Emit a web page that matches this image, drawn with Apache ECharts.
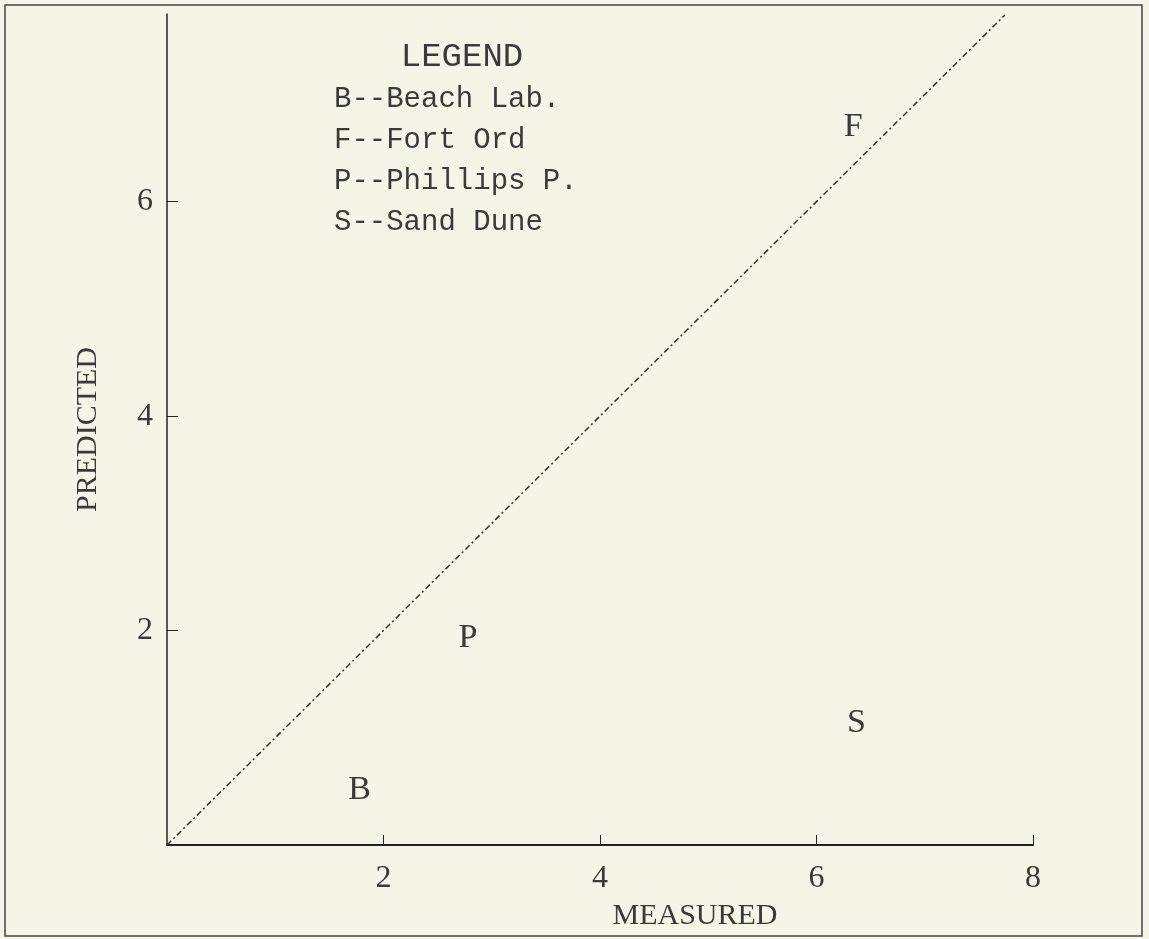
<!DOCTYPE html>
<html>
<head>
<meta charset="utf-8">
<style>
html, body { margin: 0; padding: 0; background: #f5f5e7; }
#container { width: 1149px; height: 939px; }
</style>
<script src="https://cdn.jsdelivr.net/npm/echarts@6/dist/echarts.min.js"></script>
</head>
<body>
<div id="container"></div>
<script>
var siteLetters = ['B', 'P', 'S', 'F'];
var measured = [1.78, 2.78, 6.37, 6.34];
var predicted = [0.51, 1.93, 1.14, 6.70];
var lineEnds = [0, 7.74];
var xTicks = [2, 4, 6, 8];
var yTicks = [2, 4, 6];
var legendTitle = 'LEGEND';
var legendLines = ['B--Beach Lab.', 'F--Fort Ord', 'P--Phillips P.', 'S--Sand Dune'];

var dom = document.getElementById('container');
var myChart = echarts.init(dom, null, { renderer: 'canvas' });

var mono = 'Liberation Mono';
var serif = 'Liberation Serif';
var ink = '#3a3a3a';

var points = siteLetters.map(function (s, i) {
  return { value: [measured[i], predicted[i]], name: s };
});

// outer frame + legend block
var graphics = [{
  type: 'rect',
  shape: { x: 5, y: 5, width: 1137, height: 931 },
  style: { fill: 'none', stroke: '#444', lineWidth: 1.5 }
}, {
  type: 'text',
  x: 462, y: 57,
  style: { text: legendTitle, font: '34px ' + mono, fill: ink, align: 'center', verticalAlign: 'middle' }
}];
legendLines.forEach(function (t, i) {
  graphics.push({
    type: 'text',
    x: 334, y: 99 + i * 41,
    style: { text: t, font: '29px ' + mono, fill: ink, align: 'left', verticalAlign: 'middle' }
  });
});

var option = {
  backgroundColor: '#f5f5e7',
  animation: false,
  grid: { left: 167, right: 116, top: 14, bottom: 94 },
  graphic: graphics,
  xAxis: {
    type: 'value', min: 0, max: 8,
    name: 'MEASURED', nameLocation: 'middle', nameGap: 56,
    nameTextStyle: { fontFamily: serif, fontSize: 30, color: ink, padding: [0, 0, 0, 190] },
    axisLine: { lineStyle: { color: '#222', width: 2 } },
    axisTick: { inside: true, length: 10, customValues: xTicks, lineStyle: { color: '#222' } },
    axisLabel: { customValues: xTicks, fontFamily: serif, fontSize: 32, color: ink, margin: 18 },
    splitLine: { show: false }
  },
  yAxis: {
    type: 'value', min: 0, max: 7.75,
    name: 'PREDICTED', nameLocation: 'middle', nameGap: 64,
    nameTextStyle: { fontFamily: serif, fontSize: 30, color: ink },
    axisLine: { lineStyle: { color: '#222', width: 1.5 } },
    axisTick: { inside: true, length: 11, customValues: yTicks, lineStyle: { color: '#222' } },
    axisLabel: { customValues: yTicks, fontFamily: serif, fontSize: 32, color: ink, margin: 14 },
    splitLine: { show: false }
  },
  series: [{
    type: 'line',
    data: [[lineEnds[0], lineEnds[0]], [lineEnds[1], lineEnds[1]]],
    symbol: 'none',
    lineStyle: { color: '#333', width: 1.5, type: [6, 3, 2, 3] }
  }, {
    type: 'scatter',
    data: points,
    symbolSize: 1,
    itemStyle: { color: 'rgba(0,0,0,0)', opacity: 1 },
    label: {
      show: true, position: 'inside', opacity: 1,
      formatter: function (p) { return p.name; },
      fontFamily: serif, fontSize: 34, color: ink
    }
  }]
};

myChart.setOption(option);
window.addEventListener('resize', myChart.resize);
</script>
</body>
</html>
